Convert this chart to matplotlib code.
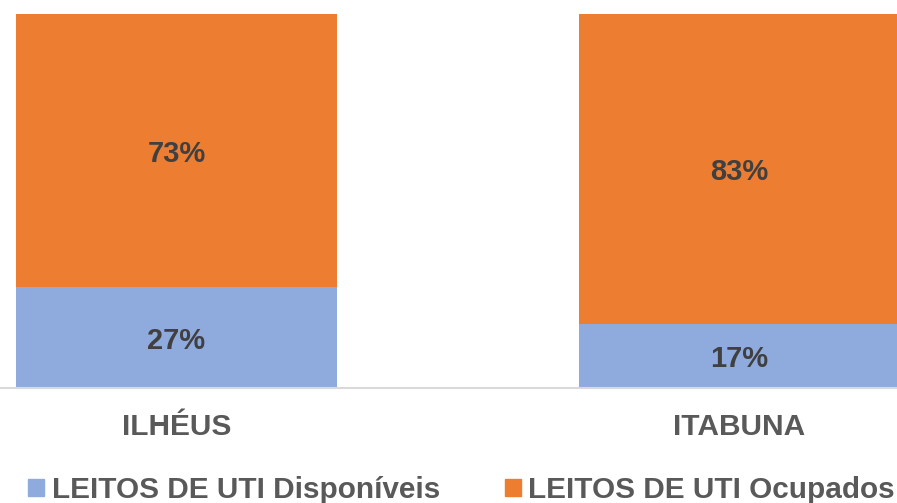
import matplotlib
matplotlib.use('Agg')
import matplotlib.pyplot as plt
from matplotlib.patches import Patch

cities = ['ILHÉUS', 'ITABUNA']
disponiveis = [27, 17]
ocupados = [73, 83]
series_names = ['LEITOS DE UTI Disponíveis', 'LEITOS DE UTI Ocupados']

blue = '#8FAADC'
orange = '#ED7D31'
label_color = '#404040'
text_color = '#595959'

plt.rcParams['font.family'] = ['Liberation Sans', 'DejaVu Sans']
plt.rcParams['font.weight'] = 'bold'

fig = plt.figure(figsize=(8.97, 5.03), dpi=100)
ax = fig.add_axes([0, 0.2286, 1, 0.7436])

x = list(range(len(cities)))
total = [d + o for d, o in zip(disponiveis, ocupados)]
disp_frac = [d / t for d, t in zip(disponiveis, total)]
ocup_frac = [o / t for o, t in zip(ocupados, total)]

w = 0.570
ax.bar(x, disp_frac, width=w, color=blue)
ax.bar(x, ocup_frac, width=w, bottom=disp_frac, color=orange)

for i in x:
    ax.text(i, disp_frac[i] / 2, f'{disponiveis[i]}%', ha='center', va='center_baseline',
            fontsize=21, fontweight='bold', color=label_color)
    ax.text(i, disp_frac[i] + ocup_frac[i] / 2, f'{ocupados[i]}%', ha='center',
            va='center_baseline', fontsize=21, fontweight='bold', color=label_color)

ax.set_xlim(-0.3135, 1.2798)
ax.set_ylim(0, 1)
ax.set_xticks(x)
ax.set_xticklabels(cities, fontsize=21.5, fontweight='bold', color=text_color)
ax.tick_params(axis='x', length=0, pad=18)
ax.set_yticks([])
for s in ['top', 'left', 'right']:
    ax.spines[s].set_visible(False)
ax.spines['bottom'].set_color('#D9D9D9')
ax.spines['bottom'].set_linewidth(1.5)

handles = [Patch(color=blue), Patch(color=orange)]
leg = fig.legend(handles, series_names, loc='center', bbox_to_anchor=(0.5145, 0.0258),
                 ncol=2, frameon=False, fontsize=21.4, handlelength=0.55, handleheight=0.55,
                 handletextpad=0.24, columnspacing=2.19, borderaxespad=0, borderpad=0)
for t in leg.get_texts():
    t.set_color(text_color)
    t.set_fontweight('bold')

fig.savefig('out.png', dpi=100)
